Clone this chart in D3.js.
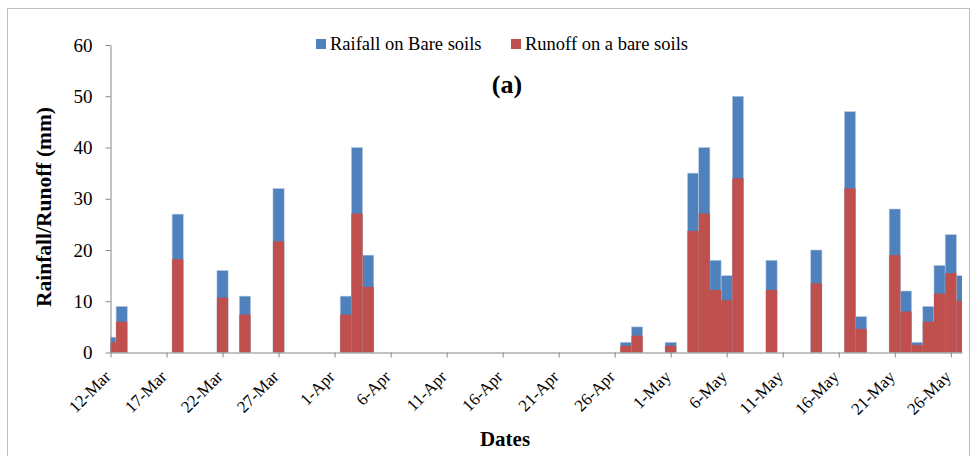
<!DOCTYPE html>
<html><head><meta charset="utf-8">
<script src="https://cdn.jsdelivr.net/npm/d3@7"></script>
<style>
body{margin:0;background:#fff;}
text{font-family:"Liberation Serif","Times New Roman",serif;fill:#000;}
</style></head>
<body><svg id="c" width="977" height="456"></svg>
<script>
const dates = ["12-Mar","13-Mar","18-Mar","22-Mar","24-Mar","27-Mar","2-Apr","3-Apr","4-Apr","27-Apr","28-Apr","1-May","3-May","4-May","5-May","6-May","7-May","10-May","14-May","17-May","18-May","21-May","22-May","23-May","24-May","25-May","26-May","27-May"];
const rainfall = [3,9,27,16,11,32,11,40,19,2,5,2,35,40,18,15,50,18,20,47,7,28,12,2,9,17,23,15];
const runoff = [2,6,18.2,10.7,7.4,21.7,7.4,27.1,12.8,1.3,3.3,1.3,23.7,27.1,12.2,10.2,34,12.2,13.5,32,4.6,19,8,1.5,6,11.5,15.5,10.1];
const tickLabels = ["12-Mar","17-Mar","22-Mar","27-Mar","1-Apr","6-Apr","11-Apr","16-Apr","21-Apr","26-Apr","1-May","6-May","11-May","16-May","21-May","26-May"];
const yTicks = [0,10,20,30,40,50,60];
const seriesNames = ["Raifall on Bare soils","Runoff on a bare soils"];
const colors = ["#4F81BD","#C0504D"];

const parse = d3.utcParse("%d-%b-%Y");
const toDate = s => parse(s + "-2013");

const svg = d3.select("#c");
// outer frame
svg.append("rect").attr("x",7.5).attr("y",8.5).attr("width",962).attr("height",460)
  .attr("fill","none").attr("stroke","#bfbfbf").attr("stroke-width",1);

const L = 110.5, R = 962, T = 45, B = 352.5;
const x = d3.scaleUtc().domain([toDate("12-Mar"), toDate("27-May")]).range([L, R]);
const y = d3.scaleLinear().domain([0,60]).range([B, T]);
const dayW = x(toDate("13-Mar")) - x(toDate("12-Mar"));

svg.append("clipPath").attr("id","clip").append("rect")
  .attr("x",L).attr("y",0).attr("width",R-L).attr("height",B);

const g = svg.append("g").attr("clip-path","url(#clip)");
const data = dates.map((d,i)=>({d:toDate(d), r:rainfall[i], o:runoff[i]}));
g.selectAll("rect.rain").data(data).join("rect").attr("class","rain")
  .attr("x",d=>x(d.d)-dayW/2).attr("width",dayW)
  .attr("y",d=>y(d.r)).attr("height",d=>y(0)-y(d.r))
  .attr("fill",colors[0]).attr("stroke","#b9cde5").attr("stroke-width",0.6);
g.selectAll("rect.run").data(data).join("rect").attr("class","run")
  .attr("x",d=>x(d.d)-dayW/2).attr("width",dayW)
  .attr("y",d=>y(d.o)).attr("height",d=>y(0)-y(d.o))
  .attr("fill",colors[1]);

// y axis
const ya = svg.append("g").attr("transform",`translate(${L},0)`)
  .call(d3.axisLeft(y).tickValues(yTicks).tickSize(5).tickSizeOuter(0).tickPadding(13));
ya.select(".domain").attr("stroke","#868686");
ya.selectAll(".tick line").attr("stroke","#868686");
ya.selectAll(".tick text").attr("font-size","19px").attr("font-family","Liberation Serif");

// x axis
const xa = svg.append("g").attr("transform",`translate(0,${B})`)
  .call(d3.axisBottom(x).tickValues(tickLabels.map(toDate)).tickSize(5).tickSizeOuter(0).tickFormat(""));
xa.select(".domain").attr("stroke","#868686");
xa.selectAll(".tick line").attr("stroke","#868686");
svg.append("g").selectAll("text").data(tickLabels).join("text")
  .attr("transform",d=>`translate(${x(toDate(d))-3},${B+21}) rotate(-45)`)
  .attr("text-anchor","end").attr("dy","0.35em").attr("font-size","17px").text(d=>d);

// titles
svg.append("text").attr("transform",`translate(51,207) rotate(-90)`)
  .attr("text-anchor","middle").attr("font-size","21.5px").attr("font-weight","bold")
  .text("Rainfall/Runoff (mm)");
svg.append("text").attr("x",505).attr("y",446).attr("text-anchor","middle")
  .attr("font-size","21px").attr("font-weight","bold").text("Dates");
svg.append("text").attr("x",507).attr("y",93).attr("text-anchor","middle")
  .attr("font-size","26px").attr("font-weight","bold").text("(a)");

// legend
const lg = svg.append("g");
const lx = [316, 511];
seriesNames.forEach((n,i)=>{
  lg.append("rect").attr("x",lx[i]).attr("y",39).attr("width",10).attr("height",10).attr("fill",colors[i]);
  lg.append("text").attr("x",lx[i]+14).attr("y",50).attr("font-size","18.5px").text(n);
});
</script></body></html>
